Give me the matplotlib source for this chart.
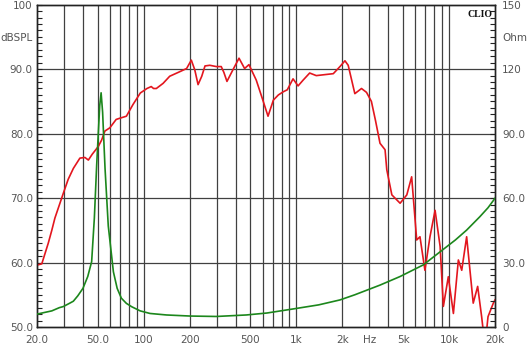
import numpy as np
import matplotlib
matplotlib.use("Agg")
import matplotlib.pyplot as plt
from matplotlib.ticker import FixedLocator, NullFormatter

# SPL response (Hz, dB)
spl_freq = [20, 21.5, 23.7, 25, 26.2, 29.7, 32, 34.6, 38.2, 41.2, 43.4, 46, 50.4, 53,
            55.7, 60, 66, 70, 77, 85, 95, 105, 112, 116, 121, 134, 148, 172, 191,
            205, 216, 227, 240, 252, 271, 299, 322, 335, 351, 384, 421, 458, 489,
            546, 603, 652, 707, 762, 822, 872, 951, 1026, 1107, 1222, 1350, 1745,
            1930, 2080, 2185, 2415, 2670, 2880, 3100, 3300, 3530, 3810, 3910, 4220, 4780,
            5290, 5690, 6140, 6450, 6950, 7500, 8100, 8740, 9180, 9890, 10680,
            11510, 12110, 13040, 14400, 15400, 16350, 17200, 18000, 19500, 20000]
spl_db = [59.6, 59.8, 63.0, 65.0, 66.9, 70.7, 72.9, 74.6, 76.2, 76.3, 75.9, 76.8, 78.0, 79.0,
          80.4, 80.9, 82.2, 82.4, 82.7, 84.5, 86.3, 87.0, 87.3, 87.0, 87.0, 87.8, 88.9,
          89.6, 90.1, 91.4, 89.9, 87.6, 88.9, 90.5, 90.6, 90.4, 90.4, 89.5, 88.1, 89.9,
          91.7, 90.1, 90.7, 88.3, 85.2, 82.7, 85.2, 86.0, 86.5, 86.8, 88.5, 87.4, 88.3,
          89.4, 89.0, 89.3, 90.4, 91.3, 90.6, 86.2, 87.0, 86.4, 85.0, 82.0, 78.5, 77.5, 74.4,
          70.5, 69.2, 70.5, 73.3, 63.5, 64.0, 58.8, 64.0, 68.1, 62.5, 53.2, 57.8, 52.1,
          60.4, 58.8, 64.0, 53.7, 56.3, 51.6, 47.0, 51.6, 53.7, 54.2]

# impedance (Hz, Ohm)
imp_freq = [20, 25, 28, 29.7, 32.6, 34.6, 37, 40, 43, 45.6, 47.5, 49.2, 50.4, 51.5,
            52.6, 53.8, 55.8, 58.6, 63.3, 67, 71.4, 77, 83.6, 94.8, 110, 141, 201,
            299, 470, 640, 952, 1400, 1930, 2415, 3530, 4780, 6780, 8740, 11000,
            13040, 15900, 18000, 20000]
imp_ohm = [6.0, 7.5, 9.0, 9.5, 11.0, 12.0, 14.5, 18.0, 23.5, 30.4, 50.7, 75.4, 90,
           103, 109, 100, 73.9, 47.0, 25.7, 18, 13.4, 11.0, 9.4, 7.5, 6.3, 5.6, 5.1,
           4.9, 5.6, 6.5, 8.4, 10.3, 12.6, 15.0, 19.5, 23.5, 28.9, 35.0, 40.5, 45.1,
           51.3, 55.5, 59.9]

x_ticks = [20, 50, 100, 200, 500, 1000, 2000, 3000, 5000, 10000, 20000]
x_labels = ["20.0", "50.0", "100", "200", "500", "1k", "2k", "Hz", "5k", "10k", "20k"]
left_ticks = [50, 60, 70, 80, 90, 95, 100]
left_labels = ["50.0", "60.0", "70.0", "80.0", "90.0", "dBSPL", "100"]
right_ticks = [0, 30, 60, 90, 120, 135, 150]
right_labels = ["0", "30.0", "60.0", "90.0", "120", "Ohm", "150"]

txt = "#555555"
grid_c = "#404040"

fig = plt.figure(figsize=(5.3, 3.45), dpi=100)
ax = fig.add_axes([37 / 530, 1 - 327 / 345, 458 / 530, 322.3 / 345])
ax.set_xscale("log")
ax.set_xlim(20, 20000)
ax.set_ylim(50, 100)
ax2 = ax.twinx()
ax2.set_ylim(0, 150)

# x axis
ax.xaxis.set_major_locator(FixedLocator(x_ticks))
ax.set_xticklabels(x_labels)
ax.xaxis.set_minor_formatter(NullFormatter())
ax.tick_params(axis="x", which="both", length=0, pad=6, labelsize=7.5, labelcolor=txt)

# y axes: a small inward tick every 1 dB / 3 Ohm, labels only at the named spots
lmap = dict(zip(left_ticks, left_labels))
lpos = list(range(50, 101))
ax.set_yticks(lpos)
ax.set_yticklabels([lmap.get(p, "") for p in lpos])
ax.tick_params(axis="y", which="major", direction="in", left=True, length=3.5,
               width=0.8, color="#222222", pad=3, labelsize=7.5, labelcolor=txt)

rmap = dict(zip(right_ticks, right_labels))
rpos = list(range(0, 151, 3))
ax2.set_yticks(rpos)
ax2.set_yticklabels([rmap.get(p, "") for p in rpos])
ax2.tick_params(axis="y", which="major", direction="in", right=True, length=3.5,
                width=0.8, color="#222222", pad=5, labelsize=7.5, labelcolor=txt)

# grid
vgrid = [f * d for d in (10, 100, 1000, 10000) for f in range(1, 10)]
for v in vgrid:
    if 20 < v < 20000:
        ax.axvline(v, color=grid_c, lw=0.9, zorder=1)
for h in range(60, 100, 10):
    ax.axhline(h, color=grid_c, lw=0.9, zorder=1)

ax.plot(spl_freq, spl_db, color="#e3161e", lw=1.2, zorder=3)
ax2.plot(imp_freq, imp_ohm, color="#1c871c", lw=1.2, zorder=3)

for a in (ax, ax2):
    for s in a.spines.values():
        s.set_color("#222222")
        s.set_linewidth(1.0)

ax2.text(0.995, 0.985, "CLIO", transform=ax2.transAxes, ha="right", va="top",
         fontsize=7, fontweight="bold", family="Liberation Serif", color="#111111")

fig.savefig("out.png", dpi=100)
